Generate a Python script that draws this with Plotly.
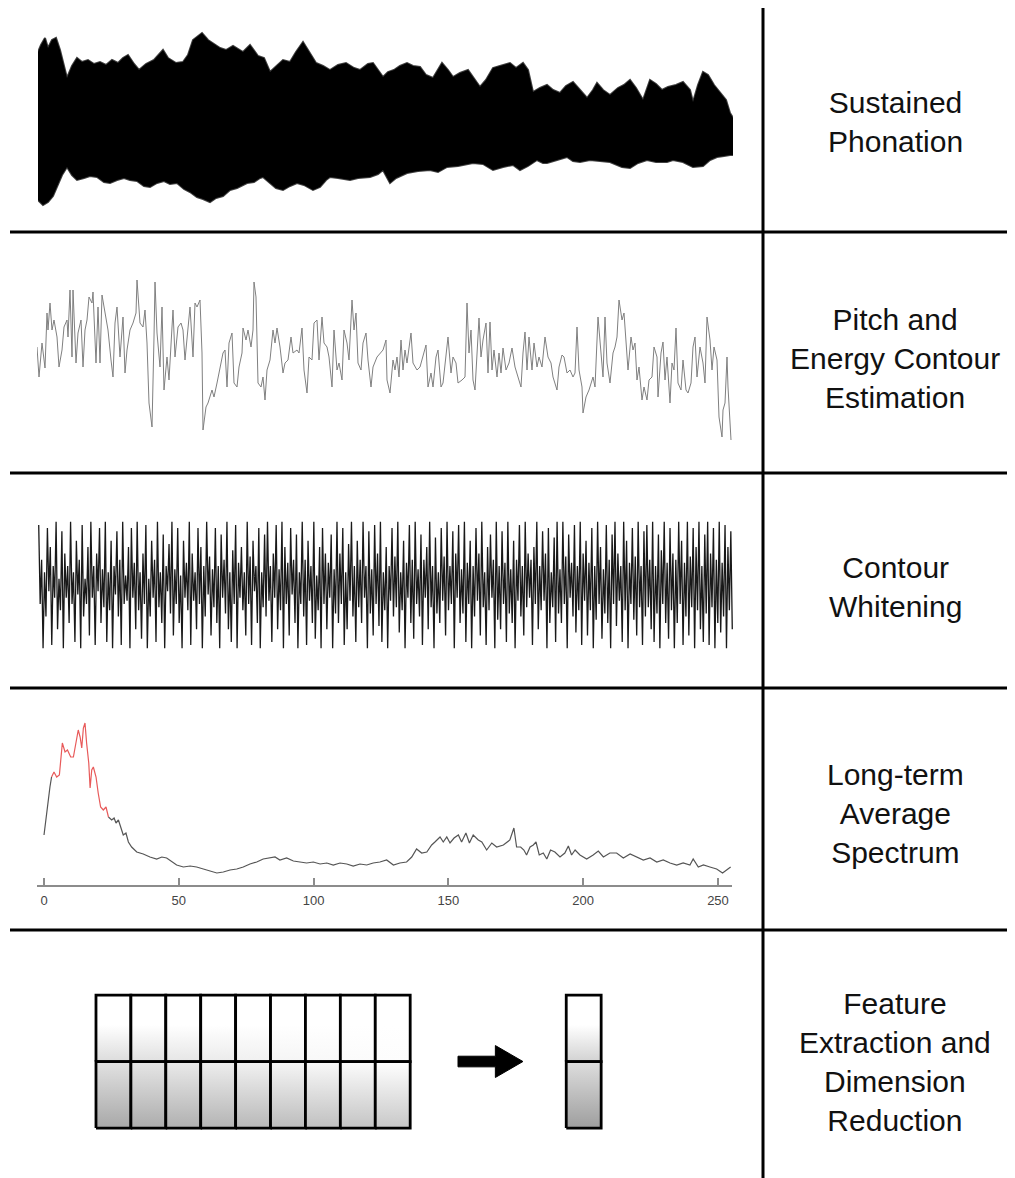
import plotly.graph_objects as go

W, H = 1015, 1178
OFF = 8  # page body margin of the html page
FW, FH = W - OFF, H - OFF

# ---------------- data ----------------
# Panel 1: sustained phonation waveform envelope (frame index, amplitude)
wave_top_frame = [0,3,7,10,14,18,22,25,29,34,39,44,50,56,62,68,74,80,85,90,96,101,108,116,125,130,138,145,150,155,160,164,170,175,182,188,195,205,212,220,226,232,238,245,252,258,265,272,278,285,292,300,308,316,322,330,335,340,345,350,356,362,369,375,382,388,395,404,410,415,422,430,436,442,448,455,462,472,478,485,490,495,502,509,515,522,528,535,542,549,555,559,565,572,580,586,592,598,605,612,618,624,630,638,645,652,655,660,665,670,676,682,688,692,695]
wave_top_amp = [68,75,82,72,80,82,70,57,42,54,62,58,60,56,58,55,60,57,62,65,56,50,56,60,70,62,57,58,65,80,84,87,80,77,72,70,74,68,75,64,62,48,54,60,58,68,78,67,57,54,50,55,57,52,50,56,57,50,43,48,50,54,57,54,53,45,42,57,50,43,47,50,42,33,40,52,54,57,52,57,50,28,32,35,30,27,34,38,30,22,30,37,30,25,32,35,40,32,20,40,36,30,33,35,38,30,18,35,48,45,35,28,20,7,2]
wave_bot_frame = [0,5,10,15,19,24,29,34,39,46,52,59,66,72,79,86,92,99,106,112,119,126,132,139,146,152,159,165,172,178,185,192,199,205,209,216,222,225,232,238,245,252,259,266,275,282,288,292,300,312,320,332,340,345,352,358,369,380,392,400,409,420,435,445,455,465,475,482,490,499,505,509,518,529,535,542,552,562,572,584,592,600,609,618,629,635,645,655,665,672,679,686,692,695]
wave_bot_amp = [-80,-85,-82,-76,-67,-55,-47,-55,-60,-58,-56,-57,-62,-63,-60,-58,-60,-61,-66,-67,-63,-61,-64,-63,-69,-72,-77,-79,-82,-78,-76,-70,-68,-65,-63,-62,-58,-57,-63,-68,-70,-66,-63,-65,-70,-67,-60,-57,-58,-60,-58,-57,-54,-50,-63,-58,-53,-51,-50,-52,-47,-46,-43,-44,-50,-47,-45,-50,-46,-40,-43,-43,-40,-37,-41,-42,-40,-41,-42,-47,-48,-43,-40,-42,-42,-40,-42,-47,-46,-40,-37,-36,-35,-35]

# Panel 2: pitch / energy contour (frame index, value)
pitch_frame = [0,2,5,6,8,10,11,13,15,17,20,22,25,27,30,31,33,35,36,39,41,44,46,48,50,52,55,56,59,61,63,65,67,71,74,76,78,80,83,86,88,90,93,96,99,100,103,106,108,110,112,115,117,118,120,123,125,127,130,132,135,136,138,141,144,146,148,150,153,156,158,160,163,165,166,169,171,175,177,180,183,186,188,190,192,195,197,200,202,205,206,209,211,214,216,217,219,221,224,226,228,230,233,236,238,240,243,246,248,251,254,256,260,262,265,267,270,272,275,277,280,282,285,287,290,292,295,297,300,302,305,307,310,312,315,317,319,321,324,326,329,331,334,336,340,343,346,349,350,353,356,358,360,362,364,366,368,370,374,376,380,383,386,389,391,394,396,399,401,404,406,409,411,414,416,419,421,425,428,430,432,434,436,438,440,442,444,446,449,451,453,455,457,460,462,464,466,469,472,475,478,481,484,486,488,490,492,495,497,500,502,505,508,511,514,516,520,522,525,527,530,533,536,538,540,542,545,546,549,552,556,558,561,564,566,568,570,573,576,578,580,582,585,587,589,591,594,596,598,600,602,605,607,610,612,615,617,620,621,624,626,628,630,633,635,637,639,641,644,646,649,651,654,656,658,660,663,666,668,670,673,675,677,680,682,685,686,688,690,691,694]
pitch_val = [103,73,107,100,82,137,120,147,120,130,113,83,100,123,130,113,160,93,160,87,117,130,83,120,130,153,147,158,87,143,87,155,143,120,90,73,127,143,93,133,77,100,120,127,137,170,127,123,140,107,47,23,113,168,117,83,143,60,93,70,123,140,93,123,127,120,90,113,143,93,147,143,150,97,20,43,47,60,53,67,83,97,100,63,107,117,67,63,83,97,122,110,120,103,120,168,153,67,63,73,50,80,90,120,107,122,103,77,87,90,113,97,100,97,122,80,57,93,90,127,130,90,133,107,103,93,63,120,80,87,70,120,107,90,150,120,137,87,80,107,117,90,63,83,93,97,100,110,70,57,90,80,93,73,110,80,100,87,117,87,80,83,93,105,63,77,63,93,100,63,67,97,113,77,93,87,67,70,73,147,97,120,70,60,100,132,93,110,127,77,128,80,100,73,97,77,102,80,87,102,83,73,63,97,118,80,113,80,107,83,93,83,113,93,87,73,60,83,95,93,77,80,73,77,123,80,63,37,53,60,73,63,133,97,73,133,87,67,97,103,113,150,130,137,113,80,113,100,107,70,83,50,63,50,70,73,103,93,53,97,108,70,93,47,87,80,122,67,60,90,60,57,67,103,113,73,103,87,67,133,110,80,103,90,33,13,40,47,93,63,10]

# Panel 3: whitened contour (one value per frame)
white_val = [
    0.95,-0.3,0.4,-1.0,0.2,-0.5,0.9,-0.1,0.6,-0.95,0.3,-0.2,1.0,-0.7,0.1,-0.4,0.85,-1.0,0.5,-0.2,
    0.3,-0.6,1.0,-0.3,0.2,-0.9,0.7,-0.15,0.4,-1.0,0.95,-0.5,0.1,-0.3,0.6,-0.8,1.0,-0.2,0.3,-0.95,
    0.5,-0.1,0.9,-0.6,0.25,-0.35,1.0,-0.9,0.2,-0.4,0.7,-1.0,0.3,-0.15,0.85,-0.5,0.4,-0.95,1.0,-0.3,
    0.15,-0.25,0.6,-1.0,0.9,-0.2,0.35,-0.7,1.0,-0.4,0.2,-0.85,0.5,-0.3,0.95,-1.0,0.1,-0.5,0.7,-0.2,
    0.4,-0.9,1.0,-0.35,0.2,-0.6,0.8,-1.0,0.3,-0.1,0.65,-0.45,1.0,-0.8,0.25,-0.3,0.9,-0.6,0.15,-1.0,
    0.7,-0.2,0.35,-0.4,1.0,-0.95,0.5,-0.25,0.2,-0.7,0.9,-0.3,0.6,-1.0,0.3,-0.5,1.0,-0.15,0.45,-0.8,
    0.25,-0.35,0.9,-0.6,0.3,-1.0,0.8,-0.2,0.4,-0.45,1.0,-0.7,0.2,-0.9,0.55,-0.3,0.95,-1.0,0.35,-0.2,
    0.6,-0.4,0.2,-0.8,1.0,-0.3,0.45,-0.95,0.7,-0.1,0.3,-0.6,0.9,-1.0,0.2,-0.35,0.8,-0.5,1.0,-0.25,
    0.3,-0.9,0.5,-0.2,0.95,-0.7,0.25,-0.4,1.0,-1.0,0.6,-0.3,0.35,-0.8,0.9,-0.15,0.4,-0.6,0.8,-1.0,
    0.2,-0.3,1.0,-0.5,0.4,-0.95,0.7,-0.25,0.3,-0.6,1.0,-0.85,0.15,-0.4,0.6,-1.0,0.9,-0.3,0.5,-0.7,
    0.35,-0.2,0.8,-1.0,0.25,-0.45,1.0,-0.6,0.5,-0.3,0.9,-0.95,0.2,-0.7,0.65,-0.25,1.0,-0.5,0.3,-0.9,
    0.7,-0.35,0.4,-0.6,1.0,-0.2,0.3,-1.0,0.85,-0.45,0.25,-0.8,0.95,-0.3,0.5,-0.65,1.0,-0.9,0.2,-0.4,
    0.6,-1.0,0.3,-0.25,0.9,-0.5,0.45,-0.35,1.0,-0.75,0.2,-0.4,0.7,-1.0,0.35,-0.2,0.95,-0.6,0.4,-0.85,
    1.0,-0.3,0.25,-0.5,0.8,-0.95,0.4,-0.2,0.6,-0.7,1.0,-0.35,0.3,-1.0,0.75,-0.45,0.2,-0.6,0.9,-0.25,
    0.45,-0.8,1.0,-0.4,0.3,-0.3,0.85,-1.0,0.5,-0.2,0.95,-0.6,0.25,-0.45,1.0,-0.9,0.35,-0.3,0.7,-1.0,
    0.3,-0.5,0.9,-0.25,0.5,-0.8,1.0,-0.35,0.2,-0.95,0.6,-0.4,0.8,-0.2,0.4,-1.0,1.0,-0.55,0.3,-0.7,
    0.85,-0.3,0.35,-0.9,1.0,-0.45,0.25,-0.6,0.7,-1.0,0.4,-0.25,0.95,-0.5,0.3,-0.8,1.0,-0.35,0.5,-0.2,
    0.4,-0.95,0.6,-0.3,1.0,-0.7,0.3,-0.4,0.85,-0.25,0.5,-1.0,0.9,-0.6,0.2,-0.35,0.75,-0.9,1.0,-0.45,
    0.25,-0.6,1.0,-0.3,0.45,-1.0,0.8,-0.2,0.35,-0.5,0.95,-0.75,0.3,-0.4,1.0,-0.95,0.5,-0.25,0.7,-0.8,
    0.35,-0.4,0.9,-1.0,0.3,-0.55,1.0,-0.3,0.6,-0.85,0.25,-0.45,0.95,-0.6,0.4,-1.0,0.8,-0.3,1.0,-0.65,
    0.5,-0.25,0.3,-0.9,1.0,-0.4,0.7,-1.0,0.35,-0.3,0.9,-0.55,0.45,-0.8,1.0,-0.35,0.3,-0.95,0.85,-0.5,
    0.95,-0.35,0.4,-0.7,1.0,-0.9,0.3,-0.45,0.8,-1.0,0.55,-0.3,1.0,-0.6,0.35,-0.85,0.9,-0.4,0.5,-1.0,
    0.4,-0.6,1.0,-0.3,0.7,-0.95,0.35,-0.5,1.0,-0.8,0.45,-0.35,0.9,-1.0,0.6,-0.4,1.0,-0.7,0.3,-0.9,
    0.8,-0.45,1.0,-0.95,0.5,-0.35,0.9,-1.0,0.4,-0.6,1.0,-0.75,0.35,-0.5,0.95,-1.0,0.6,-0.4,0.85,-0.7,
]

# Panel 4: long-term average spectrum (bin, magnitude)
ltas_bin_a = [0,1,2.2,2.8]
ltas_val_a = [50,75,98,108]
ltas_bin_red = [2.8,3.7,4.7,5.7,6.8,7.8,8.7,9.9,10.9,11.8,12.7,13.4,14,14.6,15.2,15.8,16.6,17.1,17.7,18.3,19.3,20.1,21,22,23,23.9]
ltas_val_red = [108,113,108,110,142,133,135,128,128,142,155,148,137,157,162,142,122,97,115,118,108,92,78,75,78,68]
ltas_bin_b = [23.9,25.1,26,26.7,27.6,28.4,29.4,30.4,31.3,32.5,34.4,36.8,39.3,41.8,43.7,45.5,47.4,49.2,51.7,54.2,56.6,59.1,61.6,64.1,66.5,69,71.5,73.9,76.4,78.9,81.3,83.8,85.7,87.5,90,92.5,95,97.4,99.9,102.4,104.9,107.3,109.8,112.3,114.7,117.2,119.7,122.1,124.6,127.1,129.6,132,134.5,136.4,138.2,140.1,142,143.8,145,146.9,148.1,149.4,150.6,152.1,153.7,154.9,156.5,157.8,159.2,161.1,162.4,164.2,166.1,167.9,170.4,172.8,174.3,175.3,176.8,178,179,180.3,181.5,182.5,183.7,185.2,186.5,187.9,189.5,191.4,193.2,194.5,195.7,197,198.8,201.3,203.7,205.6,207.5,209.9,212.4,214.9,217.4,219.8,222.3,224.8,227.3,229.7,232.2,234.7,237.1,239.6,240.8,242.7,244.6,247,249.5,251.7,253.2,254.7]
ltas_val_b = [68,65,67,62,65,58,50,52,43,38,33,31,28,26,28,27,23,20,18,19,18,16,14,12,13,15,16,18,21,23,26,27,28,25,27,24,23,22,23,21,22,20,22,21,19,21,20,22,23,25,20,22,23,28,36,32,33,40,43,48,43,48,42,47,50,43,52,42,50,45,43,35,42,38,40,45,57,38,38,35,30,38,40,43,30,32,26,35,33,28,32,39,30,35,30,26,30,34,28,32,32,27,31,28,25,27,23,25,22,20,22,20,26,18,20,18,16,12,15,18]
ltas_ticks = [0, 50, 100, 150, 200, 250]

# Panel 5: feature matrix (frames x features) -> reduced vector
n_frames = 9
n_feats = 2
top_row_shade = ["#dcdcdc", "#e0e0e0", "#e6e6e6", "#ebebeb", "#f0f0f0", "#f5f5f5", "#f8f8f8", "#fbfbfb", "#fdfdfd"]
bot_row_top = ["#e2e2e2", "#e6e6e6", "#eaeaea", "#eeeeee", "#f2f2f2", "#f6f6f6", "#f9f9f9", "#fcfcfc", "#ffffff"]
bot_row_bot = ["#a8a8a8", "#acacac", "#b0b0b0", "#b4b4b4", "#b8b8b8", "#bcbcbc", "#c0c0c0", "#c4c4c4", "#c8c8c8"]
vec_top_shade = "#d2d2d2"
vec_bot_shades = ("#dedede", "#9e9e9e")

labels = ["Sustained<br>Phonation",
          "Pitch and<br>Energy Contour<br>Estimation",
          "Contour<br>Whitening",
          "Long-term<br>Average<br>Spectrum",
          "Feature<br>Extraction and<br>Dimension<br>Reduction"]

# ---------------- figure ----------------
def pxx(p):
    return (p - OFF) / FW

def pxy(p):
    return 1 - (p - OFF) / FH

fig = go.Figure()

# Panel 1
fig.add_trace(go.Scatter(
    x=wave_top_frame + wave_bot_frame[::-1],
    y=wave_top_amp + wave_bot_amp[::-1],
    fill="toself", fillcolor="black", mode="lines",
    line=dict(color="rgba(0,0,0,0.75)", width=2), xaxis="x", yaxis="y", hoverinfo="skip"))

# Panel 2
fig.add_trace(go.Scatter(x=pitch_frame, y=pitch_val, mode="lines",
                         line=dict(color="#808080", width=1),
                         xaxis="x2", yaxis="y2", hoverinfo="skip"))

# Panel 3
fig.add_trace(go.Scatter(x=list(range(len(white_val))), y=white_val, mode="lines",
                         line=dict(color="rgba(0,0,0,0.9)", width=1.3),
                         xaxis="x3", yaxis="y3", hoverinfo="skip"))

# Panel 4
for bx, bv, col in [(ltas_bin_a, ltas_val_a, "#555555"),
                    (ltas_bin_b, ltas_val_b, "#555555"),
                    (ltas_bin_red, ltas_val_red, "#e85a5a")]:
    fig.add_trace(go.Scatter(x=bx, y=bv, mode="lines", line=dict(color=col, width=1.2),
                             xaxis="x4", yaxis="y4", hoverinfo="skip"))

# Panel 5: matrix cells
def cell(x0, x1, y0, y1, scale):
    fig.add_trace(go.Scatter(
        x=[x0, x1, x1, x0, x0], y=[y0, y0, y1, y1, y0],
        fill="toself", mode="lines",
        fillgradient=dict(type="vertical", colorscale=scale),
        line=dict(color="black", width=2.8),
        xaxis="x5", yaxis="y5", hoverinfo="skip"))

for c in range(n_frames):
    cell(c, c + 1, 1, 2, [[0, top_row_shade[c]], [0.55, "#ffffff"], [1, "#ffffff"]])
    cell(c, c + 1, 0, 1, [[0, bot_row_bot[c]], [1, bot_row_top[c]]])

vec_x0 = n_frames + 4.47
cell(vec_x0, vec_x0 + 1, 1, 2, [[0, vec_top_shade], [0.55, "#ffffff"], [1, "#ffffff"]])
cell(vec_x0, vec_x0 + 1, 0, 1, [[0, vec_bot_shades[1]], [1, vec_bot_shades[0]]])

# arrow
ax0, ax1, ax2 = n_frames + 1.37, n_frames + 2.44, n_frames + 3.23
fig.add_trace(go.Scatter(
    x=[ax0, ax1, ax1, ax2, ax1, ax1, ax0, ax0],
    y=[0.92, 0.92, 0.76, 1.0, 1.24, 1.08, 1.08, 0.92],
    fill="toself", fillcolor="black", mode="lines", line=dict(color="black", width=1),
    xaxis="x5", yaxis="y5", hoverinfo="skip"))

hidden = dict(visible=False, fixedrange=True)
fig.update_layout(
    width=FW, height=FH, margin=dict(l=0, r=0, t=0, b=0),
    paper_bgcolor="white", plot_bgcolor="rgba(0,0,0,0)", showlegend=False,
    xaxis=dict(domain=[pxx(38), pxx(733)], range=[0, 695], anchor="y", **hidden),
    yaxis=dict(domain=[pxy(215), pxy(25)], range=[-95, 95], anchor="x", **hidden),
    xaxis2=dict(domain=[pxx(37), pxx(732)], range=[0, 695], anchor="y2", **hidden),
    yaxis2=dict(domain=[pxy(450), pxy(270)], range=[0, 180], anchor="x2", **hidden),
    xaxis3=dict(domain=[pxx(38), pxx(733)], range=[-0.5, len(white_val) - 0.5], anchor="y3", **hidden),
    yaxis3=dict(domain=[pxy(652), pxy(518)], range=[-1.06, 1.06], anchor="x3", **hidden),
    xaxis4=dict(domain=[pxx(37), pxx(732)], range=[-2.6, 255.2], anchor="y4",
                showline=True, linecolor="#8c8c8c", linewidth=1.5,
                ticks="inside", ticklen=7, tickwidth=1.5, tickcolor="#8c8c8c",
                tickvals=ltas_ticks, showgrid=False, zeroline=False, fixedrange=True,
                tickfont=dict(size=13, color="#444444", family="Liberation Sans, Arial"),
                ticklabelstandoff=3),
    yaxis4=dict(domain=[pxy(885), pxy(715)], range=[0, 170], anchor="x4", **hidden),
    xaxis5=dict(domain=[pxx(80), pxx(620)], range=[-0.458, 15.01], anchor="y5", **hidden),
    yaxis5=dict(domain=[pxy(1140), pxy(980)], range=[-0.18, 2.226], anchor="x5", **hidden),
)

# divider lines
for yy in [232, 473, 688, 930]:
    fig.add_shape(type="line", xref="paper", yref="paper",
                  x0=pxx(10), x1=1, y0=pxy(yy), y1=pxy(yy),
                  line=dict(color="black", width=3))
fig.add_shape(type="line", xref="paper", yref="paper",
              x0=pxx(763), x1=pxx(763), y0=pxy(8), y1=0,
              line=dict(color="black", width=3))

# stage labels
for txt, yc in zip(labels, [122, 358, 587, 813, 1062]):
    fig.add_annotation(text=txt, xref="paper", yref="paper", x=pxx(895), y=pxy(yc),
                       showarrow=False, xanchor="center", yanchor="middle", align="center",
                       font=dict(family="Liberation Sans, Arial", size=30, color="#111111"))

fig.write_html("out.html")
